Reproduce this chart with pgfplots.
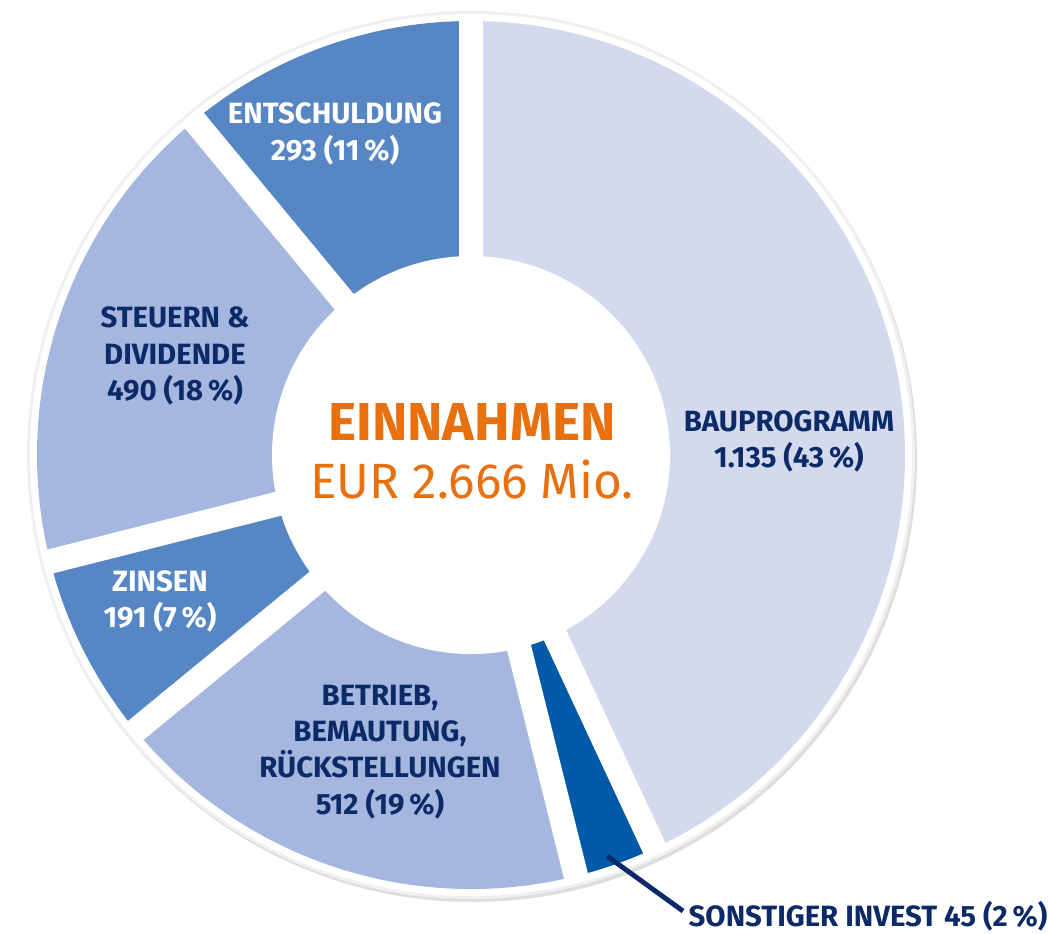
\documentclass[border=0pt]{standalone}
\usepackage{pgfplots}
\usepackage{pgfplotstable}
\pgfplotsset{compat=1.18}
\usepackage{fontspec}
\setmainfont{Fira Sans}
\definecolor{cBau}{HTML}{D3DAEE}
\definecolor{cSon}{HTML}{005AA8}
\definecolor{cBet}{HTML}{A6B7DF}
\definecolor{cZin}{HTML}{5686C4}
\definecolor{cSte}{HTML}{A6B7DF}
\definecolor{cEnt}{HTML}{5686C4}
\definecolor{cNavy}{HTML}{0C2A68}
\definecolor{cOrange}{HTML}{E8700E}

% value = EUR Mio.; span = drawn angle of the segment in degrees (as in the picture)
\pgfplotstableread{
name value span color
Bauprogramm 1135 155.0 cBau
Sonstiger 45 11.0 cSon
Betrieb 512 64.6 cBet
Zinsen 191 25.2 cZin
Steuern 490 64.6 cSte
Entschuldung 293 39.6 cEnt
}\einnahmen

\begin{document}
\begin{tikzpicture}
\begin{axis}[width=10.48cm, height=9.33cm, scale only axis,
  xmin=0, xmax=1048, ymin=0, ymax=933, hide axis, clip=false]
\path (axis cs:0,0) rectangle (axis cs:1048,933);
\pgfplotsextra{
  % outer ring with faint shadow
  \fill[black!13] (axis cs:473,475) circle[radius=4.44cm];
  \fill[black!6] (axis cs:471,478) circle[radius=4.44cm];
  \fill[white] (axis cs:471,478) circle[radius=4.41cm];
  % sectors
  \def\cur{90}
  \pgfplotsforeachungrouped \i in {0,...,5}{
    \pgfplotstablegetelem{\i}{span}\of\einnahmen \let\v\pgfplotsretval
    \pgfplotstablegetelem{\i}{color}\of\einnahmen \let\c\pgfplotsretval
    \pgfmathsetmacro\nxt{\cur-\v}
    \fill[\c] (axis cs:471,478) -- ++(\cur:4.34cm)
      arc[start angle=\cur, end angle=\nxt, radius=4.34cm] -- cycle;
    \let\cur\nxt
  }
  % gaps
  \def\cur{90}
  \draw[white, line width=0.245cm] (axis cs:471,478) -- ++(\cur:4.38cm);
  \pgfplotsforeachungrouped \i in {0,...,5}{
    \pgfplotstablegetelem{\i}{span}\of\einnahmen \let\v\pgfplotsretval
    \pgfmathsetmacro\nxt{\cur-\v}
    \draw[white, line width=0.245cm] (axis cs:471,478) -- ++(\nxt:4.38cm);
    \let\cur\nxt
  }
  \fill[white] (axis cs:471,478) circle[radius=1.99cm];
}
\addplot[cNavy, line width=1.4pt, forget plot] coordinates {(607,77) (683,22)};

\node[align=center, text=white, font=\fontsize{8.35}{10.3}\selectfont\bfseries] at (axis cs:335,799) {ENTSCHULDUNG\\293 (11\,\%)};
\node[align=center, text=cNavy, font=\fontsize{8.35}{10.3}\selectfont\bfseries] at (axis cs:175,577) {STEUERN \&\\DIVIDENDE\\490 (18\,\%)};
\node[align=center, text=white, font=\fontsize{8.35}{10.3}\selectfont\bfseries] at (axis cs:160,332) {ZINSEN\\191 (7\,\%)};
\node[align=center, text=cNavy, font=\fontsize{8.35}{10.3}\selectfont\bfseries] at (axis cs:380,181) {BETRIEB,\\BEMAUTUNG,\\RÜCKSTELLUNGEN\\512 (19\,\%)};
\node[align=center, text=cNavy, font=\fontsize{8.35}{10.3}\selectfont\bfseries] at (axis cs:789,492) {BAUPROGRAMM\\1.135 (43\,\%)};
\node[anchor=west, text=cNavy, font=\fontsize{8.35}{10.3}\selectfont\bfseries, inner sep=0pt] at (axis cs:688,17) {SONSTIGER INVEST 45 (2\,\%)};
\node[text=cOrange, inner sep=0pt, font=\fontsize{15.2}{17}\selectfont\bfseries] at (axis cs:472,511) {EINNAHMEN};
\node[text=cOrange, inner sep=0pt, font=\fontsize{14.1}{16}\selectfont] at (axis cs:472,454) {EUR 2.666 Mio.};
\end{axis}
\end{tikzpicture}
\end{document}
